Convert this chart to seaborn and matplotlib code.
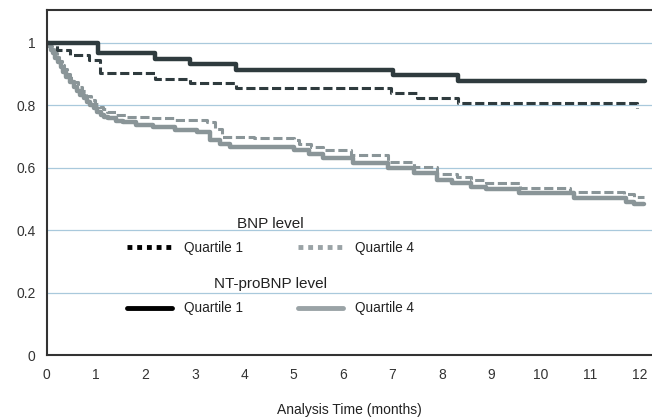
import matplotlib
matplotlib.use("Agg")
import matplotlib.pyplot as plt
from matplotlib.lines import Line2D
import seaborn as sns

# Kaplan-Meier style survival curves
nt_q1_t = [0, 1.03, 2.19, 2.9, 3.83, 7.01, 8.33, 12.1]
nt_q1_s = [1.0, 0.968, 0.949, 0.932, 0.913, 0.897, 0.878, 0.878]

bnp_q1_t = [0, 0.2, 0.47, 0.85, 1.08, 2.2, 2.9, 3.83, 6.96, 7.5, 8.33, 11.95]
bnp_q1_s = [1.0, 0.977, 0.961, 0.945, 0.904, 0.884, 0.871, 0.855, 0.839, 0.824, 0.808, 0.79]

nt_q4_t = [0, 0.04, 0.08, 0.12, 0.17, 0.22, 0.28, 0.34, 0.4, 0.47, 0.55, 0.62, 0.68, 0.75,
           0.82, 0.88, 0.95, 1.02, 1.09, 1.17, 1.25, 1.4, 1.55, 1.8, 2.16, 2.6,
           3.05, 3.3, 3.5, 3.7, 5.0, 5.3, 5.6, 6.2, 6.9, 7.43, 7.9, 8.2, 8.58, 8.9, 9.56,
           10.67, 11.72, 11.89, 12.08]
nt_q4_s = [1.0, 0.99, 0.978, 0.966, 0.952, 0.938, 0.923, 0.906, 0.89, 0.874, 0.859, 0.845,
           0.833, 0.822, 0.811, 0.8, 0.79, 0.779, 0.769, 0.763, 0.758, 0.751, 0.745, 0.737,
           0.731, 0.722, 0.715, 0.69, 0.675, 0.667, 0.657, 0.645, 0.63, 0.614, 0.598, 0.582,
           0.561, 0.55, 0.539, 0.531, 0.518, 0.502, 0.491, 0.484, 0.484]

bnp_q4_t = [0, 0.05, 0.1, 0.15, 0.2, 0.25, 0.3, 0.36, 0.42, 0.48, 0.55, 0.63, 0.72, 0.8,
            0.89, 0.97, 1.05, 1.13, 1.22, 1.4, 1.62, 2.1, 2.6, 3.25, 3.4,
            3.55, 4.2, 5.0, 5.1, 5.35, 5.6, 6.15, 6.9, 7.43, 7.9, 8.3, 8.58, 8.9, 9.58,
            10.6, 11.68, 11.88, 12.08]
bnp_q4_s = [1.0, 0.99, 0.98, 0.967, 0.955, 0.943, 0.93, 0.915, 0.9, 0.887, 0.875, 0.86,
            0.845, 0.831, 0.817, 0.805, 0.795, 0.787, 0.779, 0.77, 0.761, 0.758,
            0.752, 0.747, 0.725, 0.70, 0.694, 0.689, 0.675, 0.665, 0.657, 0.641, 0.619, 0.603,
            0.579, 0.57, 0.561, 0.552, 0.534, 0.523, 0.515, 0.507, 0.507]

xticks = list(range(0, 13))
yticks = [0, 0.2, 0.4, 0.6, 0.8, 1.0]
yticklabels = ["0", "0.2", "0.4", "0.6", "0.8", "1"]

dark = "#2f3b3e"
grey = "#8a9598"
dash = (0, (3.0, 1.2))

sns.set_style("white")
plt.rcParams["font.family"] = ["Liberation Sans", "DejaVu Sans"]

fig = plt.figure(figsize=(6.52, 4.17), dpi=100)
ax = fig.add_axes([0.0716, 0.148, 0.9284, 0.828])

for y in yticks[1:]:
    ax.axhline(y, color="#a9c9dc", lw=0.9, zorder=0)

sns.lineplot(x=nt_q4_t, y=nt_q4_s, ax=ax, color=grey, lw=3.2, drawstyle="steps-post")
sns.lineplot(x=bnp_q4_t, y=bnp_q4_s, ax=ax, color=grey, lw=2.2, linestyle=dash, drawstyle="steps-post")
sns.lineplot(x=nt_q1_t, y=nt_q1_s, ax=ax, color=dark, lw=3.2, drawstyle="steps-post")
sns.lineplot(x=bnp_q1_t, y=bnp_q1_s, ax=ax, color=dark, lw=2.2, linestyle=dash, drawstyle="steps-post")

ax.set_xlim(0, 12.25)
ax.set_ylim(0, 1.105)
ax.set_xticks(xticks)
ax.set_yticks(yticks)
ax.set_yticklabels(yticklabels)
ax.tick_params(axis="x", direction="inout", length=6, width=1.2, pad=6, labelsize=10, colors="#333333")
ax.tick_params(axis="y", direction="out", length=5, width=1.2, pad=3, labelsize=10, colors="#333333")
ax.set_xlabel("Analysis Time (months)", fontsize=10, color="#222222", labelpad=15)
ax.set_ylabel("")

for side in ["left", "bottom", "top"]:
    ax.spines[side].set_color("#333333")
    ax.spines[side].set_linewidth(1.5)
ax.spines["right"].set_visible(False)

leg_kw = dict(ncol=2, frameon=False, fontsize=9.8, title_fontsize=11, handlelength=3.3,
              handletextpad=0.9, columnspacing=4.0, labelspacing=0.75, loc="upper center")

bnp_handles = [Line2D([], [], color="black", lw=3.5, linestyle=(0, (1, 1))),
               Line2D([], [], color="#9aa3a6", lw=3.5, linestyle=(0, (1, 1)))]
leg1 = ax.legend(bnp_handles, ["Quartile 1", "Quartile 4"], title="BNP level",
                 bbox_to_anchor=(0.37, 0.437), **leg_kw)
ax.add_artist(leg1)

nt_handles = [Line2D([], [], color="black", lw=3.5),
              Line2D([], [], color="#9aa3a6", lw=3.5)]
leg2 = ax.legend(nt_handles, ["Quartile 1", "Quartile 4"], title="NT-proBNP level",
                 bbox_to_anchor=(0.37, 0.262), **leg_kw)

for lg in (leg1, leg2):
    lg.get_title().set_color("#222222")
    for t in lg.get_texts():
        t.set_color("#222222")

fig.savefig("out.png", dpi=100)
